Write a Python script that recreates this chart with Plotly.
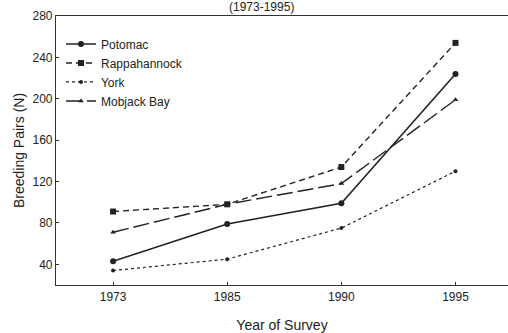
import plotly.graph_objects as go

years = ["1973", "1985", "1990", "1995"]
potomac = [43, 79, 99, 224]
rappahannock = [91, 98, 134, 254]
york = [34, 45, 75, 130]
mobjack = [71, 98, 118, 199]

ink = "#222222"
fig = go.Figure()
series = [
    ("Potomac", potomac, "solid", "circle", 6, 1.6),
    ("Rappahannock", rappahannock, "6px,4px", "square", 6, 1.4),
    ("York", york, "dot", "circle", 4, 1.2),
    ("Mobjack Bay", mobjack, "16px,5px", "triangle-up", 5, 1.4),
]
for name, vals, dash, sym, ms, lw in series:
    fig.add_trace(go.Scatter(
        x=years, y=vals, name=name, mode="lines+markers",
        line=dict(color=ink, width=lw, dash=dash),
        marker=dict(symbol=sym, size=ms, color=ink),
    ))

axis_font = dict(family="Liberation Sans, Arial, sans-serif", size=12, color="#222")
fig.update_layout(
    width=508, height=333,
    margin=dict(l=56, r=0, t=16, b=48, autoexpand=False),
    paper_bgcolor="white", plot_bgcolor="white",
    font=axis_font,
    showlegend=True,
    legend=dict(x=0.011, y=0.95, xanchor="left", yanchor="top",
                bgcolor="rgba(0,0,0,0)", font=dict(size=12, color="#222"),
                tracegroupgap=0, itemwidth=30),
    xaxis=dict(type="category", range=[-0.5, 3.46], showline=True, linecolor="#333",
               linewidth=1.2, mirror=True, ticks="inside", ticklen=3, tickcolor="#333",
               showgrid=False, zeroline=False, automargin=False,
               title=dict(text="Year of Survey", font=dict(size=14), standoff=17)),
    yaxis=dict(range=[20, 280], tickvals=[40, 80, 120, 160, 200, 240, 280],
               showline=True, linecolor="#333", linewidth=1.2, mirror=False,
               ticks="inside", ticklen=3, tickcolor="#333",
               showgrid=False, zeroline=False, automargin=False,
               title=dict(text="Breeding Pairs (N)", font=dict(size=14), standoff=4)),
    annotations=[dict(text="(1973-1995)", xref="paper", yref="paper", x=0.455, y=1,
                      yanchor="bottom", yshift=0, showarrow=False,
                      font=dict(size=12, color="#222"))],
)
fig.write_html("out.html", config={"responsive": False, "displayModeBar": False},
               post_script="document.body.style.margin='0';document.body.style.overflow='hidden';"
                           "document.documentElement.style.overflow='hidden';")
